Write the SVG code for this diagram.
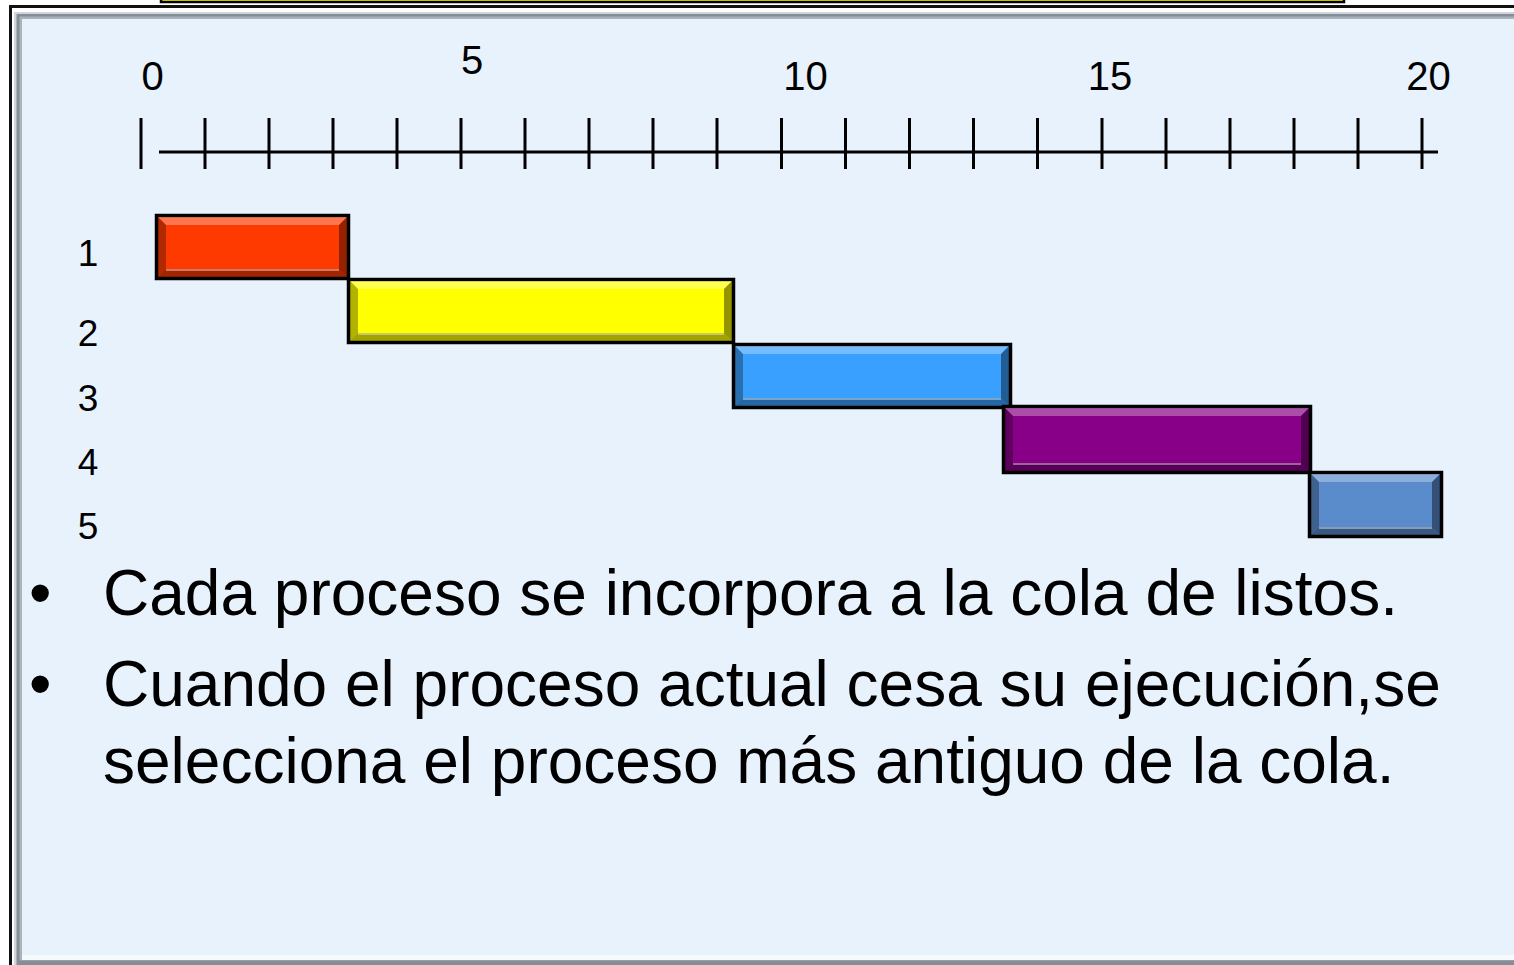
<svg xmlns="http://www.w3.org/2000/svg" width="1514" height="965" viewBox="0 0 1514 965">
<style>
text{font-family:"Liberation Sans",Arial,Helvetica,sans-serif;fill:#000}
.ax{font-size:40px;text-anchor:middle}
.row{font-size:37px;text-anchor:middle}
.body{font-size:64px}
.tick{stroke:#000;stroke-width:3}
.bar{stroke:#000;stroke-width:3.5}
.bt{fill:#fff;fill-opacity:.3}
.bl{fill:#000;fill-opacity:.3}
.br{fill:#000;fill-opacity:.42}
.bb{fill:#000;fill-opacity:.36}
.hl{stroke:#fff;stroke-opacity:.4;stroke-width:2;fill:none}
</style>
<rect x="0" y="0" width="1514" height="965" fill="#fff"/>
<g id="frame">
<rect x="10.5" y="6.5" width="1530" height="980" fill="none" stroke="#111" stroke-width="3"/>
<rect x="14" y="12" width="1520" height="953" fill="#d0d6dc"/>
<rect x="16.5" y="14" width="1520" height="951" fill="#858d96"/>
<rect x="19.5" y="16.5" width="1520" height="944" fill="#aab2ba"/>
<rect x="22" y="19" width="1520" height="937" fill="#E8F2FD"/>
<rect x="22" y="955" width="1520" height="5" fill="#f7fafd"/>
</g>
<g id="title-box">
<rect x="161" y="-10" width="1183" height="12" fill="#ffff00" stroke="#000" stroke-width="2.5"/>
</g>
<g id="axis">
<line class="tick" x1="159" y1="152" x2="1438" y2="152"/>
<line class="tick" x1="141" y1="118" x2="141" y2="169"/>
<line class="tick" x1="205" y1="118" x2="205" y2="169"/>
<line class="tick" x1="269" y1="118" x2="269" y2="169"/>
<line class="tick" x1="333" y1="118" x2="333" y2="169"/>
<line class="tick" x1="397" y1="118" x2="397" y2="169"/>
<line class="tick" x1="461" y1="118" x2="461" y2="169"/>
<line class="tick" x1="525" y1="118" x2="525" y2="169"/>
<line class="tick" x1="589" y1="118" x2="589" y2="169"/>
<line class="tick" x1="653" y1="118" x2="653" y2="169"/>
<line class="tick" x1="717" y1="118" x2="717" y2="169"/>
<line class="tick" x1="781.5" y1="118" x2="781.5" y2="169"/>
<line class="tick" x1="845.5" y1="118" x2="845.5" y2="169"/>
<line class="tick" x1="909.5" y1="118" x2="909.5" y2="169"/>
<line class="tick" x1="973.5" y1="118" x2="973.5" y2="169"/>
<line class="tick" x1="1037.5" y1="118" x2="1037.5" y2="169"/>
<line class="tick" x1="1102" y1="118" x2="1102" y2="169"/>
<line class="tick" x1="1166" y1="118" x2="1166" y2="169"/>
<line class="tick" x1="1230" y1="118" x2="1230" y2="169"/>
<line class="tick" x1="1294" y1="118" x2="1294" y2="169"/>
<line class="tick" x1="1358" y1="118" x2="1358" y2="169"/>
<line class="tick" x1="1422" y1="118" x2="1422" y2="169"/>
<text class="ax" x="152.5" y="90">0</text>
<text class="ax" x="472" y="74">5</text>
<text class="ax" x="805.5" y="90">10</text>
<text class="ax" x="1110" y="90">15</text>
<text class="ax" x="1428.5" y="90">20</text>
</g>
<g id="row-labels">
<text class="row" x="88" y="266">1</text>
<text class="row" x="88" y="346">2</text>
<text class="row" x="88" y="411">3</text>
<text class="row" x="88" y="475">4</text>
<text class="row" x="88" y="539">5</text>
</g>
<g id="bar2" transform="translate(347,278)">
<rect class="bar" x="1.5" y="1.5" width="385" height="63" fill="#ffff00"/>
<polygon class="bt" points="3,3 385,3 377,11 11,11"/>
<polygon class="bb" points="3,63 385,63 377,55 11,55"/>
<polygon class="bl" points="3,3 11,11 11,55 3,63"/>
<polygon class="br" points="385,3 377,11 377,55 385,63"/>
<line class="hl" x1="11" y1="56" x2="377" y2="56"/>
</g>
<g id="bar1" transform="translate(155,214)">
<rect class="bar" x="1.5" y="1.5" width="192" height="63" fill="#ff3a00"/>
<polygon class="bt" points="3,3 192,3 184,11 11,11"/>
<polygon class="bb" points="3,63 192,63 184,55 11,55"/>
<polygon class="bl" points="3,3 11,11 11,55 3,63"/>
<polygon class="br" points="192,3 184,11 184,55 192,63"/>
<line class="hl" x1="11" y1="56" x2="184" y2="56"/>
</g>
<g id="bar3" transform="translate(732,343)">
<rect class="bar" x="1.5" y="1.5" width="277" height="63" fill="#3aa0ff"/>
<polygon class="bt" points="3,3 277,3 269,11 11,11"/>
<polygon class="bb" points="3,63 277,63 269,55 11,55"/>
<polygon class="bl" points="3,3 11,11 11,55 3,63"/>
<polygon class="br" points="277,3 269,11 269,55 277,63"/>
<line class="hl" x1="11" y1="56" x2="269" y2="56"/>
</g>
<g id="bar4" transform="translate(1002,405)">
<rect class="bar" x="1.5" y="1.5" width="307" height="66" fill="#880088"/>
<polygon class="bt" points="3,3 307,3 299,11 11,11"/>
<polygon class="bb" points="3,66 307,66 299,58 11,58"/>
<polygon class="bl" points="3,3 11,11 11,58 3,66"/>
<polygon class="br" points="307,3 299,11 299,58 307,66"/>
<line class="hl" x1="11" y1="59" x2="299" y2="59"/>
</g>
<g id="bar5" transform="translate(1308,471)">
<rect class="bar" x="1.5" y="1.5" width="132" height="64" fill="#5a8bcb"/>
<polygon class="bt" points="3,3 132,3 124,11 11,11"/>
<polygon class="bb" points="3,64 132,64 124,56 11,56"/>
<polygon class="bl" points="3,3 11,11 11,56 3,64"/>
<polygon class="br" points="132,3 124,11 124,56 132,64"/>
<line class="hl" x1="11" y1="57" x2="124" y2="57"/>
</g>
<g id="bullets">
<text class="body" x="29" y="615">•</text>
<text class="body" x="103" y="615">Cada proceso se incorpora a la cola de listos.</text>
<text class="body" x="29" y="706">•</text>
<text class="body" x="103" y="706">Cuando el proceso actual cesa su ejecución,se</text>
<text class="body" x="103" y="783">selecciona el proceso más antiguo de la cola.</text>
</g>
</svg>
